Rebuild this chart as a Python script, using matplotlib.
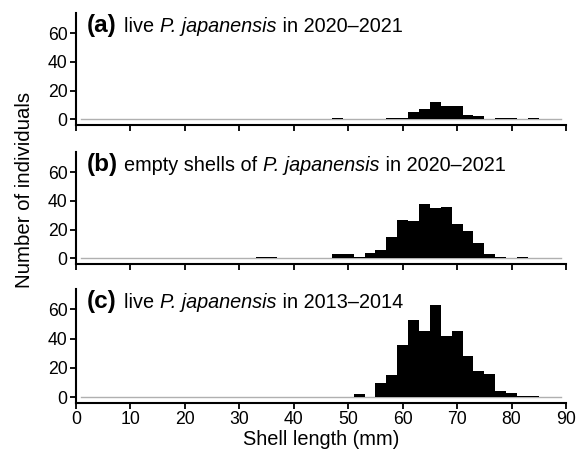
#shell length histograms of P. japanensis, three panels sharing the x axis
import matplotlib
matplotlib.use('Agg')
import matplotlib.pyplot as plt
from matplotlib.transforms import offset_copy

#bin centres (mm), every bin is 2 mm wide
bins_a = [48, 58, 60, 62, 64, 66, 68, 70, 72, 74, 78, 80, 84]
counts_a = [1, 1, 1, 5, 7, 12, 9, 9, 3, 2, 1, 1, 1]

bins_b = [34, 36, 48, 50, 52, 54, 56, 58, 60, 62, 64, 66, 68, 70, 72, 74, 76, 78, 82]
counts_b = [1, 1, 3, 3, 1, 4, 6, 15, 27, 26, 38, 35, 36, 24, 19, 11, 3, 1, 1]

bins_c = [52, 56, 58, 60, 62, 64, 66, 68, 70, 72, 74, 76, 78, 80, 82, 84]
counts_c = [2, 10, 15, 36, 53, 45, 63, 42, 45, 28, 18, 16, 4, 3, 1, 1]

panel_tags = ['(a)', '(b)', '(c)']
#each title is split in (text, italic?) pieces
panel_texts = [[('live ', False), ('P. japanensis', True), (' in 2020–2021', False)],
               [('empty shells of ', False), ('P. japanensis', True), (' in 2020–2021', False)],
               [('live ', False), ('P. japanensis', True), (' in 2013–2014', False)]]
x_ticks = [0, 10, 20, 30, 40, 50, 60, 70, 80, 90]
y_ticks = [0, 20, 40, 60]

plt.rcParams['font.family'] = ['Liberation Sans', 'DejaVu Sans']

fig = plt.figure(figsize=(5.83, 4.57), dpi=100)
renderer = fig.canvas.get_renderer()

#axes boxes in figure fractions (left, bottom, width, height)
boxes = [[0.1304, 0.7265, 0.8405, 0.2451],
         [0.1304, 0.4223, 0.8405, 0.2447],
         [0.1304, 0.1182, 0.8405, 0.2494]]

data = [(bins_a, counts_a), (bins_b, counts_b), (bins_c, counts_c)]

for i in range(3):
    ax = fig.add_axes(boxes[i])
    centres, counts = data[i]
    #thin grey base line first, bars on top
    ax.plot([1, 89], [0, 0], color='#b0b0b0', lw=1, zorder=1)
    ax.bar(centres, counts, width=2, color='black', linewidth=0, zorder=2)
    ax.set_xlim(0, 90)
    ax.set_ylim(-4, 74)
    ax.set_xticks(x_ticks)
    ax.set_yticks(y_ticks)
    for s in ['top', 'right']:
        ax.spines[s].set_visible(False)
    for s in ['left', 'bottom']:
        ax.spines[s].set_linewidth(1.5)
    ax.tick_params(direction='out', length=4, width=1.3, labelsize=12.7, pad=2)
    if i < 2:
        ax.tick_params(axis='x', labelbottom=False)
    #panel title: bold tag then the description, piece by piece
    ax.text(2.0, 61, panel_tags[i], fontsize=17.5, fontweight='bold', va='baseline')
    shift = 0
    for piece, italic in panel_texts[i]:
        tr = offset_copy(ax.transData, fig=fig, x=shift, y=0, units='dots')
        t = ax.text(8.9, 61, piece, fontsize=14.3, va='baseline',
                    fontstyle='italic' if italic else 'normal', transform=tr)
        shift += t.get_window_extent(renderer).width
    if i == 2:
        ax.set_xlabel('Shell length (mm)', fontsize=14.4, labelpad=1)

fig.text(0.042, 0.584, 'Number of individuals', rotation=90, fontsize=14.7,
         ha='center', va='center')

fig.savefig('out.png', dpi=100)
